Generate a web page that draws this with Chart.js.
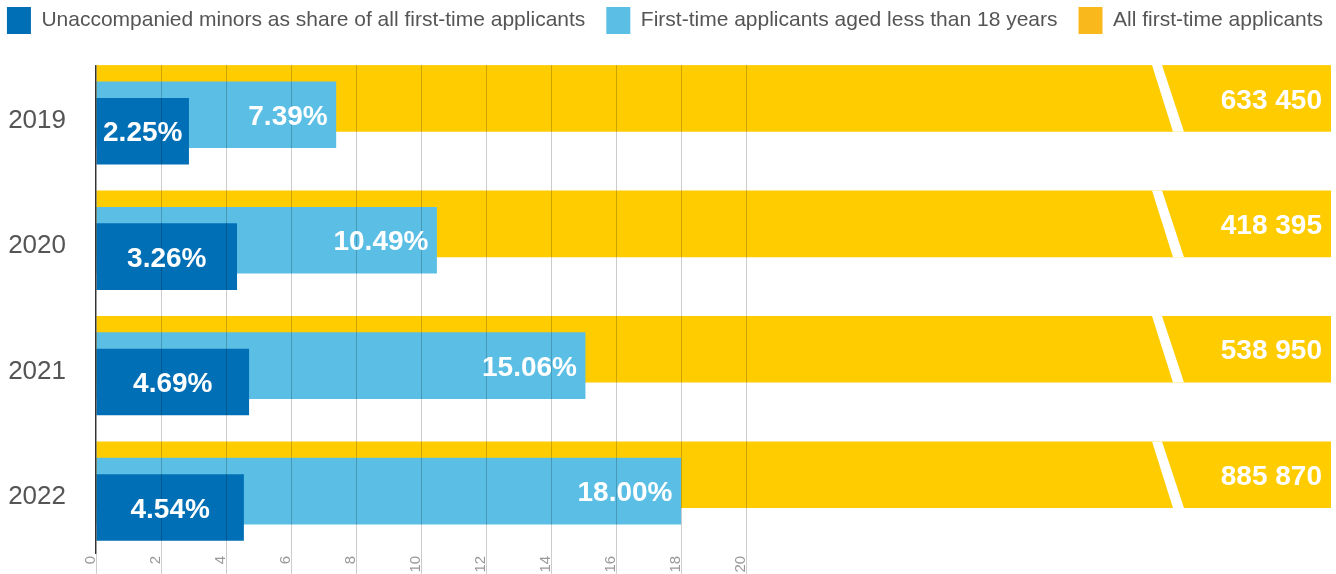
<!DOCTYPE html>
<html><head><meta charset="utf-8">
<script src="https://cdn.jsdelivr.net/npm/chart.js@4.4.1/dist/chart.umd.min.js"></script>
<style>html,body{margin:0;padding:0;background:#fff;overflow:hidden}canvas{display:block}</style>
</head><body>
<canvas id="c" width="1336" height="574"></canvas>
<script>
// ---- data ----
const categories = ['2019', '2020', '2021', '2022'];
const allApplicants = [633450, 418395, 538950, 885870];
const under18Share = [7.39, 10.49, 15.06, 18.00];
const unaccompaniedBar = [2.86, 4.34, 4.71, 4.55];
const unaccompaniedLabels = ['2.25%', '3.26%', '4.69%', '4.54%'];
const xTickLabels = ['0', '2', '4', '6', '8', '10', '12', '14', '16', '18', '20'];
const seriesNames = [
  'All first-time applicants',
  'First-time applicants aged less than 18 years',
  'Unaccompanied minors as share of all first-time applicants'
];

// ---- styles ----
const FONT = "'Liberation Sans', Arial, sans-serif";
const YELLOW = '#ffcc00', YELLOW_KEY = '#f9b91d', LIGHT = '#5bbfe5', DARK = '#006fb5';
const GRID = 'rgba(0,0,0,0.2)';
const TEXT_DY = 2.5;

const fmt = n => String(n).replace(/\B(?=(\d{3})+(?!\d))/g, ' ');
const shown = v => xTickLabels.includes(String(v));

const legendFit = {
  id: 'legendFit',
  beforeLayout(chart) {
    const lg = chart.legend;
    if (!lg || lg._patched) return;
    const orig = lg.fit;
    lg.fit = function () {
      const mw = this.maxWidth;
      this.maxWidth = 4000;
      orig.call(this);
      this.maxWidth = mw;
      this.width = mw;
      this.height = 66.1;
    };
    lg._patched = true;
  }
};

const drawOrder = {
  id: 'drawOrder',
  beforeDatasetsDraw(chart) {
    const ctx = chart.ctx, a = chart.chartArea;
    ctx.save();
    ctx.beginPath();
    ctx.rect(a.left, a.top, a.right - a.left, a.bottom - a.top);
    ctx.clip();
    chart.getSortedVisibleDatasetMetas().forEach(m => m.controller.draw());
    ctx.restore();
    return false;
  }
};

const overlay = {
  id: 'overlay',
  afterDraw(chart) {
    const ctx = chart.ctx, a = chart.chartArea;
    const yellow = chart.getDatasetMeta(0).data;
    const light = chart.getDatasetMeta(1).data;
    const dark = chart.getDatasetMeta(2).data;
    ctx.save();
    ctx.fillStyle = '#fff';
    const y0 = yellow[0].y - yellow[0].height / 2;
    ctx.fillRect(a.left - 3, a.top - 2, a.right - a.left + 6, y0 - a.top + 2);
    yellow.forEach(el => {
      const t = el.y - el.height / 2, b = el.y + el.height / 2;
      ctx.beginPath();
      ctx.moveTo(a.right - 179, t);
      ctx.lineTo(a.right - 169, t);
      ctx.lineTo(a.right - 147, b);
      ctx.lineTo(a.right - 158, b);
      ctx.closePath();
      ctx.fill();
    });
    ctx.font = 'bold 28px ' + FONT;
    ctx.textBaseline = 'middle';
    ctx.textAlign = 'right';
    yellow.forEach((el, i) => ctx.fillText(fmt(allApplicants[i]), a.right - 9, el.y + TEXT_DY));
    light.forEach((el, i) => ctx.fillText(under18Share[i].toFixed(2) + '%', el.x - 8.5, el.y + TEXT_DY));
    ctx.textAlign = 'center';
    dark.forEach((el, i) => ctx.fillText(unaccompaniedLabels[i], (el.x + el.base) / 2, el.y + TEXT_DY));
    ctx.restore();
  }
};

new Chart(document.getElementById('c'), {
  type: 'bar',
  data: {
    labels: categories,
    datasets: [
      { label: seriesNames[0], data: allApplicants, backgroundColor: YELLOW },
      { label: seriesNames[1], data: under18Share, backgroundColor: LIGHT },
      { label: seriesNames[2], data: unaccompaniedBar, backgroundColor: DARK }
    ]
  },
  options: {
    indexAxis: 'y',
    responsive: false,
    animation: false,
    devicePixelRatio: 1,
    datasets: { bar: { categoryPercentage: 0.3923, barPercentage: 4.061, borderWidth: 0 } },
    layout: { padding: { top: -14, left: -26, right: -20, bottom: 0 } },
    plugins: {
      tooltip: { enabled: false },
      legend: {
        position: 'top',
        reverse: true,
        labels: {
          boxWidth: 24, boxHeight: 27, padding: 21, color: '#555',
          font: { family: FONT, size: 21 },
          generateLabels(chart) {
            const items = Chart.defaults.plugins.legend.labels.generateLabels(chart);
            items.forEach(it => {
              if (it.datasetIndex === 0) it.fillStyle = YELLOW_KEY;
              it.strokeStyle = it.fillStyle;
              it.lineWidth = 0;
            });
            return items;
          }
        }
      }
    },
    scales: {
      x: {
        type: 'linear', min: 0, max: 38, position: 'bottom',
        border: { display: false },
        grid: {
          z: 1, lineWidth: 1, drawTicks: true, tickLength: 20,
          color: c => (c.tick && shown(c.tick.value)) ? GRID : 'rgba(0,0,0,0)',
          tickColor: c => (c.tick && shown(c.tick.value)) ? GRID : 'rgba(0,0,0,0)'
        },
        ticks: {
          stepSize: 2, autoSkip: false, minRotation: 90, maxRotation: 90,
          padding: -18, labelOffset: -5, color: '#999',
          font: { family: FONT, size: 15 },
          callback: v => shown(v) ? String(v) : null
        },
        afterFit(s) { s.height = 20.2; s.paddingLeft = 0; s.paddingRight = 5; }
      },
      y: {
        type: 'category', offset: true,
        grid: { display: false, drawTicks: false },
        border: { display: true, color: '#333', width: 1.3, z: 2 },
        ticks: { padding: 30, labelOffset: 6, color: '#555', font: { family: FONT, size: 26 } },
        afterFit(s) { s.width = 122; s.paddingTop = 0; s.paddingBottom = 0; }
      }
    }
  },
  plugins: [legendFit, drawOrder, overlay]
});
</script>
</body></html>
